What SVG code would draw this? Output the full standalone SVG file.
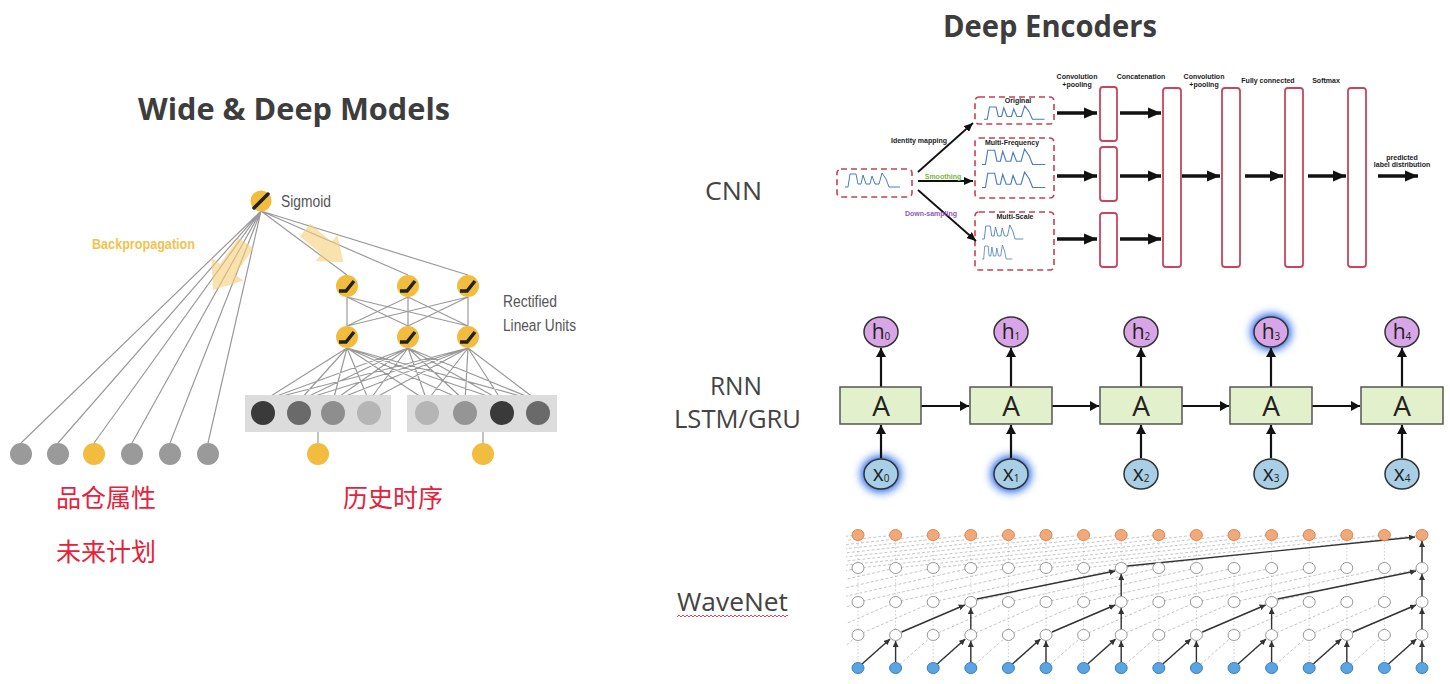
<svg xmlns="http://www.w3.org/2000/svg" xmlns:xlink="http://www.w3.org/1999/xlink" width="1450" height="684" viewBox="0 0 1450 684">
<style>
.title{font-family:"Open Sans","Noto Sans",sans-serif;font-weight:700;font-size:30px;fill:#3d3d3d}
.lbl{font-family:"Open Sans","Noto Sans",sans-serif;font-size:26px;fill:#444}
.cond{font-family:"Liberation Sans",Arial,sans-serif;font-size:16px;fill:#555}
.bp{font-family:"Liberation Sans",Arial,sans-serif;font-size:15px;font-weight:700;fill:#f2c24f}
.zh{font-family:"Noto Sans CJK SC","Noto Sans",sans-serif;font-size:25px;fill:#e8213a}
.tiny{font-family:"Liberation Sans",Arial,sans-serif;font-size:7px;font-weight:700;fill:#222;text-anchor:middle}
.gl{stroke:#9a9a9a;stroke-width:1.2;fill:none}
.dbox{fill:#fff;stroke:#c8404e;stroke-width:1.6;stroke-dasharray:6,4}
.lay{fill:#fff;stroke:#c8455a;stroke-width:1.8}
.thick{stroke:#111;stroke-width:3.5;fill:none;marker-end:url(#hThick)}
.thin{stroke:#111;stroke-width:1.8;fill:none;marker-end:url(#hThin)}
.abox{fill:#e3f0cc;stroke:#555;stroke-width:1.5}
.hc{fill:#d8a6e6;stroke:#333;stroke-width:1.5}
.xc{fill:#a9cfe6;stroke:#333;stroke-width:1.5}
.rarr{stroke:#111;stroke-width:2.2;fill:none;marker-end:url(#hR)}
.A{font-family:"Open Sans","Liberation Sans",sans-serif;font-size:28px;fill:#222;text-anchor:middle}
.hx{font-family:"Open Sans","Liberation Sans",sans-serif;font-size:21px;fill:#222;text-anchor:middle}
.wdash{stroke:#b8b8b8;stroke-width:0.8;stroke-dasharray:3,2;fill:none}
.wvert{stroke:#c8c8c8;stroke-width:0.9;stroke-dasharray:1.5,2;fill:none}
.warr{stroke:#333;stroke-width:1.4;fill:none;marker-end:url(#hW)}
</style>
<defs>
<marker id="hThick" markerUnits="userSpaceOnUse" markerWidth="14" markerHeight="12" refX="13" refY="6" orient="auto"><path d="M0,0.5 L13,6 L0,11.5 z" fill="#111"/></marker>
<marker id="hThin" markerUnits="userSpaceOnUse" markerWidth="10" markerHeight="8" refX="9" refY="4" orient="auto"><path d="M0,0 L9,4 L0,8 z" fill="#111"/></marker>
<marker id="hR" markerUnits="userSpaceOnUse" markerWidth="10" markerHeight="10" refX="9" refY="5" orient="auto"><path d="M0,0 L9,5 L0,10 z" fill="#111"/></marker>
<marker id="hW" markerUnits="userSpaceOnUse" markerWidth="7" markerHeight="6" refX="6" refY="3" orient="auto"><path d="M0,0 L6,3 L0,6 z" fill="#333"/></marker>
<filter id="glow" x="-60%" y="-60%" width="220%" height="220%"><feGaussianBlur stdDeviation="4"/></filter>
<path id="wave" d="M0,15 L3,15 L5,2 L11,2 L13,12 L16,12 L18,3 L21,12 L25,12 L27,4 L30,12 L34,12 L37,1 L41,7 L44,15 L55,15" fill="none" stroke="#4a7cc0" stroke-width="1"/>
<path id="bparrow" d="M0,-8 L28,-8 L28,-17 L50,0 L28,17 L28,8 L0,8 Z" fill="#f5cf78" opacity="0.6"/>
<g id="relu"><circle r="11" fill="#f2bd3e"/><path d="M-8,5 L-1,5 L7,-5" stroke="#222" stroke-width="3.5" fill="none"/></g>
<ellipse id="wo" rx="6" ry="5.5" fill="#f2a877" stroke="#d98a5a" stroke-width="1"/>
<ellipse id="ww" rx="6" ry="5.5" fill="#fff" stroke="#9a9a9a" stroke-width="1"/>
<ellipse id="wb" rx="6" ry="5.5" fill="#5aa4e2" stroke="#3a80c0" stroke-width="1"/>
<pattern id="wavy" patternUnits="userSpaceOnUse" width="4" height="4" x="677" y="614"><path d="M0,3 L2,1 L4,3" stroke="#e0304a" stroke-width="0.9" fill="none"/></pattern>
<clipPath id="wclip"><rect x="846" y="525" width="590" height="155"/></clipPath>
</defs>
<rect width="1450" height="684" fill="#fff"/>

<!-- ============ LEFT: Wide & Deep ============ -->
<text class="title" x="138" y="120" textLength="312" lengthAdjust="spacingAndGlyphs">Wide &amp; Deep Models</text>

<g id="wd-connectors">
<path class="gl" d="M261,211L21,443M261,211L58,443M261,211L94,443M261,211L132,443M261,211L170,443M261,211L208,443"/>
<path class="gl" d="M261,211L347,275M261,211L408,275M261,211L468,275"/>
<path class="gl" d="M347,297L347,326M347,297L408,326M347,297L468,326M408,297L347,326M408,297L408,326M408,297L468,326M468,297L347,326M468,297L408,326M468,297L468,326"/>
<path class="gl" d="M347,348L263,401M347,348L299,401M347,348L333,401M347,348L369,401M347,348L427,401M347,348L465,401M347,348L502,401M347,348L538,401M408,348L263,401M408,348L299,401M408,348L333,401M408,348L369,401M408,348L427,401M408,348L465,401M408,348L502,401M408,348L538,401M468,348L263,401M468,348L299,401M468,348L333,401M468,348L369,401M468,348L427,401M468,348L465,401M468,348L502,401M468,348L538,401"/>
<path class="gl" d="M318,432L318,443M483,432L483,443"/>
</g>

<g id="backprop">
<use href="#bparrow" transform="translate(246,243) rotate(125) scale(1.15)"/>
<use href="#bparrow" transform="translate(305,230) rotate(40)"/>
<text class="bp" x="92" y="249" textLength="103" lengthAdjust="spacingAndGlyphs">Backpropagation</text>
</g>

<g id="sigmoid">
<circle cx="261" cy="201" r="10.5" fill="#f2bd3e"/>
<path d="M254,208 L268,194" stroke="#222" stroke-width="3.5" stroke-linecap="round"/>
<text class="cond" x="281" y="207" textLength="50" lengthAdjust="spacingAndGlyphs">Sigmoid</text>
</g>

<g id="relu-layers">
<use href="#relu" x="347" y="286"/><use href="#relu" x="408" y="286"/><use href="#relu" x="468" y="286"/>
<use href="#relu" x="347" y="337"/><use href="#relu" x="408" y="337"/><use href="#relu" x="468" y="337"/>
<text class="cond" x="503" y="307" textLength="54" lengthAdjust="spacingAndGlyphs">Rectified</text>
<text class="cond" x="503" y="331" textLength="73" lengthAdjust="spacingAndGlyphs">Linear Units</text>
</g>

<g id="embeddings">
<rect x="245" y="395" width="146" height="37" fill="#dcdcdc"/>
<rect x="407" y="395" width="150" height="37" fill="#dcdcdc"/>
<circle cx="263" cy="413" r="12" fill="#3a3a3a"/>
<circle cx="299" cy="413" r="12" fill="#6a6a6a"/>
<circle cx="333" cy="413" r="12" fill="#8e8e8e"/>
<circle cx="369" cy="413" r="12" fill="#b5b5b5"/>
<circle cx="427" cy="413" r="12" fill="#b5b5b5"/>
<circle cx="465" cy="413" r="12" fill="#959595"/>
<circle cx="502" cy="413" r="12" fill="#3a3a3a"/>
<circle cx="538" cy="413" r="12" fill="#6a6a6a"/>
</g>

<g id="sparse-deep">
<circle cx="318" cy="454" r="11" fill="#f2bd3e"/>
<circle cx="483" cy="454" r="11" fill="#f2bd3e"/>
</g>

<g id="wide-features">
<circle cx="21" cy="454" r="11" fill="#9a9a9a"/>
<circle cx="58" cy="454" r="11" fill="#9a9a9a"/>
<circle cx="94" cy="454" r="11" fill="#f2bd3e"/>
<circle cx="132" cy="454" r="11" fill="#9a9a9a"/>
<circle cx="170" cy="454" r="11" fill="#9a9a9a"/>
<circle cx="208" cy="454" r="11" fill="#9a9a9a"/>
</g>

<g id="cn-labels">
<text class="zh" x="56" y="507">品仓属性</text>
<text class="zh" x="56" y="561">未来计划</text>
<text class="zh" x="343" y="507">历史时序</text>
</g>

<!-- ============ RIGHT: Deep Encoders ============ -->
<text class="title" x="943" y="37" textLength="214" lengthAdjust="spacingAndGlyphs">Deep Encoders</text>
<text class="lbl" x="705" y="200" textLength="57" lengthAdjust="spacingAndGlyphs">CNN</text>
<text class="lbl" x="710" y="395" textLength="52" lengthAdjust="spacingAndGlyphs">RNN</text>
<text class="lbl" x="674" y="428" textLength="127" lengthAdjust="spacingAndGlyphs">LSTM/GRU</text>
<text class="lbl" x="677" y="611" textLength="111" lengthAdjust="spacingAndGlyphs">WaveNet</text>
<rect x="677" y="614" width="111" height="4" fill="url(#wavy)"/>

<!-- CNN -->
<g id="cnn-input">
<rect class="dbox" x="837" y="169" width="75" height="28" rx="4"/>
<use href="#wave" transform="translate(845,172)"/>
</g>
<g id="cnn-original">
<rect class="dbox" x="975" y="97" width="79" height="27" rx="4"/>
<use href="#wave" transform="translate(984,105) scale(1.1,0.95)"/>
<text class="tiny" x="1018" y="103" font-size="6">Original</text>
</g>
<g id="cnn-multifreq">
<rect class="dbox" x="975" y="138" width="79" height="60" rx="4"/>
<use href="#wave" transform="translate(982,148) scale(1.15,1.1)"/>
<use href="#wave" transform="translate(982,171) scale(1.15,1.1)"/>
<text class="tiny" x="1012" y="145" font-size="6">Multi-Frequency</text>
</g>
<g id="cnn-multiscale">
<rect class="dbox" x="975" y="212" width="79" height="58" rx="4"/>
<use href="#wave" transform="translate(982,224) scale(0.75,1)"/>
<use href="#wave" transform="translate(982,244) scale(0.55,1)"/>
<text class="tiny" x="1015" y="219" font-size="6">Multi-Scale</text>
</g>
<g id="cnn-layers">
<rect class="lay" x="1100" y="87" width="17" height="54" rx="3"/>
<rect class="lay" x="1100" y="147" width="17" height="54" rx="3"/>
<rect class="lay" x="1100" y="213" width="17" height="54" rx="3"/>
<rect class="lay" x="1163" y="88" width="18" height="179" rx="3"/>
<rect class="lay" x="1222" y="88" width="18" height="179" rx="3"/>
<rect class="lay" x="1285" y="88" width="18" height="179" rx="3"/>
<rect class="lay" x="1348" y="88" width="18" height="179" rx="3"/>
</g>
<g id="cnn-connectors">
<path class="thin" d="M918,172 L973,123"/>
<path class="thin" d="M918,181 L973,181"/>
<path class="thin" d="M918,190 L976,241"/>
<path class="thick" d="M1057,113 L1097,113"/>
<path class="thick" d="M1057,176 L1097,176"/>
<path class="thick" d="M1057,239 L1097,239"/>
<path class="thick" d="M1120,113 L1161,113"/>
<path class="thick" d="M1120,176 L1161,176"/>
<path class="thick" d="M1120,239 L1161,239"/>
<path class="thick" d="M1182,176 L1220,176"/>
<path class="thick" d="M1245,176 L1283,176"/>
<path class="thick" d="M1308,176 L1346,176"/>
<path class="thick" d="M1378,176 L1418,176"/>
</g>
<g id="cnn-labels">
<text class="tiny" x="919" y="143">Identity mapping</text>
<text class="tiny" x="943" y="179" style="fill:#7ab648">Smoothing</text>
<text class="tiny" x="931" y="216" style="fill:#8e5bb5">Down-sampling</text>
<text class="tiny" x="1077" y="79">Convolution</text>
<text class="tiny" x="1077" y="87">+pooling</text>
<text class="tiny" x="1141" y="79">Concatenation</text>
<text class="tiny" x="1204" y="79">Convolution</text>
<text class="tiny" x="1204" y="87">+pooling</text>
<text class="tiny" x="1268" y="83">Fully connected</text>
<text class="tiny" x="1326" y="83">Softmax</text>
<text class="tiny" x="1402" y="160">predicted</text>
<text class="tiny" x="1402" y="167">label distribution</text>
</g>

<!-- RNN -->
<g id="rnn-glow">
<ellipse cx="881" cy="474" rx="20" ry="18" fill="#1f5fe8" filter="url(#glow)"/>
<ellipse cx="1011" cy="474" rx="20" ry="18" fill="#1f5fe8" filter="url(#glow)"/>
<ellipse cx="1271" cy="332" rx="20" ry="18" fill="#1f5fe8" filter="url(#glow)"/>
</g>
<g id="rnn-connectors">
<path class="rarr" d="M881,387 L881,348"/><path class="rarr" d="M1011,387 L1011,348"/><path class="rarr" d="M1141,387 L1141,348"/><path class="rarr" d="M1271,387 L1271,348"/><path class="rarr" d="M1402,387 L1402,348"/>
<path class="rarr" d="M881,458 L881,425"/><path class="rarr" d="M1011,458 L1011,425"/><path class="rarr" d="M1141,458 L1141,425"/><path class="rarr" d="M1271,458 L1271,425"/><path class="rarr" d="M1402,458 L1402,425"/>
<path class="rarr" d="M921,406 L969,406"/><path class="rarr" d="M1052,406 L1099,406"/><path class="rarr" d="M1182,406 L1229,406"/><path class="rarr" d="M1312,406 L1360,406"/>
</g>
<g id="rnn-cell-0"><rect class="abox" x="840" y="387" width="81" height="37"/><text class="A" x="881" y="416">A</text></g>
<g id="rnn-cell-1"><rect class="abox" x="970" y="387" width="82" height="37"/><text class="A" x="1011" y="416">A</text></g>
<g id="rnn-cell-2"><rect class="abox" x="1100" y="387" width="82" height="37"/><text class="A" x="1141" y="416">A</text></g>
<g id="rnn-cell-3"><rect class="abox" x="1230" y="387" width="82" height="37"/><text class="A" x="1271" y="416">A</text></g>
<g id="rnn-cell-4"><rect class="abox" x="1361" y="387" width="82" height="37"/><text class="A" x="1402" y="416">A</text></g>
<g id="rnn-h">
<ellipse class="hc" cx="881" cy="332" rx="17" ry="15"/><text class="hx" x="881" y="339">h<tspan font-size="10" dy="1">0</tspan></text>
<ellipse class="hc" cx="1011" cy="332" rx="17" ry="15"/><text class="hx" x="1011" y="339">h<tspan font-size="10" dy="1">1</tspan></text>
<ellipse class="hc" cx="1141" cy="332" rx="17" ry="15"/><text class="hx" x="1141" y="339">h<tspan font-size="10" dy="1">2</tspan></text>
<ellipse class="hc" cx="1271" cy="332" rx="17" ry="15"/><text class="hx" x="1271" y="339">h<tspan font-size="10" dy="1">3</tspan></text>
<ellipse class="hc" cx="1402" cy="332" rx="17" ry="15"/><text class="hx" x="1402" y="339">h<tspan font-size="10" dy="1">4</tspan></text>
</g>
<g id="rnn-x">
<ellipse class="xc" cx="881" cy="474" rx="17" ry="15"/><text class="hx" x="881" y="481">x<tspan font-size="10" dy="1">0</tspan></text>
<ellipse class="xc" cx="1011" cy="474" rx="17" ry="15"/><text class="hx" x="1011" y="481">x<tspan font-size="10" dy="1">1</tspan></text>
<ellipse class="xc" cx="1141" cy="474" rx="17" ry="15"/><text class="hx" x="1141" y="481">x<tspan font-size="10" dy="1">2</tspan></text>
<ellipse class="xc" cx="1271" cy="474" rx="17" ry="15"/><text class="hx" x="1271" y="481">x<tspan font-size="10" dy="1">3</tspan></text>
<ellipse class="xc" cx="1402" cy="474" rx="17" ry="15"/><text class="hx" x="1402" y="481">x<tspan font-size="10" dy="1">4</tspan></text>
</g>

<!-- WaveNet -->
<g id="wavenet-grid" clip-path="url(#wclip)">
<path class="wvert" d="M858,668v-133m37.6,133v-133m37.6,133v-133m37.6,133v-133m37.6,133v-133m37.6,133v-133m37.6,133v-133m37.6,133v-133m37.6,133v-133m37.6,133v-133m37.6,133v-133m37.6,133v-133m37.6,133v-133m37.6,133v-133m37.6,133v-133m37.6,133v-133"/>
<path class="wdash" d="M820.4,668l37.6,-33m0,33l37.6,-33m0,33l37.6,-33m0,33l37.6,-33m0,33l37.6,-33m0,33l37.6,-33m0,33l37.6,-33m0,33l37.6,-33m0,33l37.6,-33m0,33l37.6,-33m0,33l37.6,-33m0,33l37.6,-33m0,33l37.6,-33m0,33l37.6,-33m0,33l37.6,-33m0,33l37.6,-33"/>
<path class="wdash" d="M782.8,635l75.2,-33m-37.6,33l75.2,-33m-37.6,33l75.2,-33m-37.6,33l75.2,-33m-37.6,33l75.2,-33m-37.6,33l75.2,-33m-37.6,33l75.2,-33m-37.6,33l75.2,-33m-37.6,33l75.2,-33m-37.6,33l75.2,-33m-37.6,33l75.2,-33m-37.6,33l75.2,-33m-37.6,33l75.2,-33m-37.6,33l75.2,-33m-37.6,33l75.2,-33m-37.6,33l75.2,-33"/>
<path class="wdash" d="M707.6,602l150.4,-34m-112.8,34l150.4,-34m-112.8,34l150.4,-34m-112.8,34l150.4,-34m-112.8,34l150.4,-34m-112.8,34l150.4,-34m-112.8,34l150.4,-34m-112.8,34l150.4,-34m-112.8,34l150.4,-34m-112.8,34l150.4,-34m-112.8,34l150.4,-34m-112.8,34l150.4,-34m-112.8,34l150.4,-34m-112.8,34l150.4,-34m-112.8,34l150.4,-34m-112.8,34l150.4,-34"/>
<path class="wdash" d="M557.2,568l300.8,-33m-263.2,33l300.8,-33m-263.2,33l300.8,-33m-263.2,33l300.8,-33m-263.2,33l300.8,-33m-263.2,33l300.8,-33m-263.2,33l300.8,-33m-263.2,33l300.8,-33m-263.2,33l300.8,-33m-263.2,33l300.8,-33m-263.2,33l300.8,-33m-263.2,33l300.8,-33m-263.2,33l300.8,-33m-263.2,33l300.8,-33m-263.2,33l300.8,-33m-263.2,33l300.8,-33"/>
</g>
<g id="wavenet-connectors">
<path class="warr" d="M862,664 L890,639"/><path class="warr" d="M937.2,664 L965.2,639"/><path class="warr" d="M1012.4,664 L1040.4,639"/><path class="warr" d="M1087.6,664 L1115.6,639"/>
<path class="warr" d="M1162.8,664 L1190.8,639"/><path class="warr" d="M1238,664 L1266,639"/><path class="warr" d="M1313.2,664 L1341.2,639"/><path class="warr" d="M1388.4,664 L1416.4,639"/>
<path class="warr" d="M895.6,662 L895.6,641"/><path class="warr" d="M970.8,662 L970.8,641"/><path class="warr" d="M1046,662 L1046,641"/><path class="warr" d="M1121.2,662 L1121.2,641"/>
<path class="warr" d="M1196.4,662 L1196.4,641"/><path class="warr" d="M1271.6,662 L1271.6,641"/><path class="warr" d="M1346.8,662 L1346.8,641"/><path class="warr" d="M1422,662 L1422,641"/>
<path class="warr" d="M901.6,632 L964.8,605"/><path class="warr" d="M1052,632 L1115.2,605"/><path class="warr" d="M1202.4,632 L1265.6,605"/><path class="warr" d="M1352.8,632 L1416,605"/>
<path class="warr" d="M970.8,629 L970.8,608"/><path class="warr" d="M1121.2,629 L1121.2,608"/><path class="warr" d="M1271.6,629 L1271.6,608"/><path class="warr" d="M1422,629 L1422,608"/>
<path class="warr" d="M976.8,599 L1115.2,571"/><path class="warr" d="M1277.6,599 L1416,571"/>
<path class="warr" d="M1121.2,596 L1121.2,574"/><path class="warr" d="M1422,596 L1422,574"/>
<path class="warr" d="M1127.2,566 L1415,537"/>
<path class="warr" d="M1422,562 L1422,541"/>
</g>
<g id="wavenet-output">
<use href="#wo" x="858" y="535"/><use href="#wo" x="895.6" y="535"/><use href="#wo" x="933.2" y="535"/><use href="#wo" x="970.8" y="535"/><use href="#wo" x="1008.4" y="535"/><use href="#wo" x="1046" y="535"/><use href="#wo" x="1083.6" y="535"/><use href="#wo" x="1121.2" y="535"/><use href="#wo" x="1158.8" y="535"/><use href="#wo" x="1196.4" y="535"/><use href="#wo" x="1234" y="535"/><use href="#wo" x="1271.6" y="535"/><use href="#wo" x="1309.2" y="535"/><use href="#wo" x="1346.8" y="535"/><use href="#wo" x="1384.4" y="535"/><use href="#wo" x="1422" y="535"/>
</g>
<g id="wavenet-hidden3">
<use href="#ww" x="858" y="568"/><use href="#ww" x="895.6" y="568"/><use href="#ww" x="933.2" y="568"/><use href="#ww" x="970.8" y="568"/><use href="#ww" x="1008.4" y="568"/><use href="#ww" x="1046" y="568"/><use href="#ww" x="1083.6" y="568"/><use href="#ww" x="1121.2" y="568"/><use href="#ww" x="1158.8" y="568"/><use href="#ww" x="1196.4" y="568"/><use href="#ww" x="1234" y="568"/><use href="#ww" x="1271.6" y="568"/><use href="#ww" x="1309.2" y="568"/><use href="#ww" x="1346.8" y="568"/><use href="#ww" x="1384.4" y="568"/><use href="#ww" x="1422" y="568"/>
</g>
<g id="wavenet-hidden2">
<use href="#ww" x="858" y="602"/><use href="#ww" x="895.6" y="602"/><use href="#ww" x="933.2" y="602"/><use href="#ww" x="970.8" y="602"/><use href="#ww" x="1008.4" y="602"/><use href="#ww" x="1046" y="602"/><use href="#ww" x="1083.6" y="602"/><use href="#ww" x="1121.2" y="602"/><use href="#ww" x="1158.8" y="602"/><use href="#ww" x="1196.4" y="602"/><use href="#ww" x="1234" y="602"/><use href="#ww" x="1271.6" y="602"/><use href="#ww" x="1309.2" y="602"/><use href="#ww" x="1346.8" y="602"/><use href="#ww" x="1384.4" y="602"/><use href="#ww" x="1422" y="602"/>
</g>
<g id="wavenet-hidden1">
<use href="#ww" x="858" y="635"/><use href="#ww" x="895.6" y="635"/><use href="#ww" x="933.2" y="635"/><use href="#ww" x="970.8" y="635"/><use href="#ww" x="1008.4" y="635"/><use href="#ww" x="1046" y="635"/><use href="#ww" x="1083.6" y="635"/><use href="#ww" x="1121.2" y="635"/><use href="#ww" x="1158.8" y="635"/><use href="#ww" x="1196.4" y="635"/><use href="#ww" x="1234" y="635"/><use href="#ww" x="1271.6" y="635"/><use href="#ww" x="1309.2" y="635"/><use href="#ww" x="1346.8" y="635"/><use href="#ww" x="1384.4" y="635"/><use href="#ww" x="1422" y="635"/>
</g>
<g id="wavenet-input">
<use href="#wb" x="858" y="668"/><use href="#wb" x="895.6" y="668"/><use href="#wb" x="933.2" y="668"/><use href="#wb" x="970.8" y="668"/><use href="#wb" x="1008.4" y="668"/><use href="#wb" x="1046" y="668"/><use href="#wb" x="1083.6" y="668"/><use href="#wb" x="1121.2" y="668"/><use href="#wb" x="1158.8" y="668"/><use href="#wb" x="1196.4" y="668"/><use href="#wb" x="1234" y="668"/><use href="#wb" x="1271.6" y="668"/><use href="#wb" x="1309.2" y="668"/><use href="#wb" x="1346.8" y="668"/><use href="#wb" x="1384.4" y="668"/><use href="#wb" x="1422" y="668"/>
</g>
</svg>
